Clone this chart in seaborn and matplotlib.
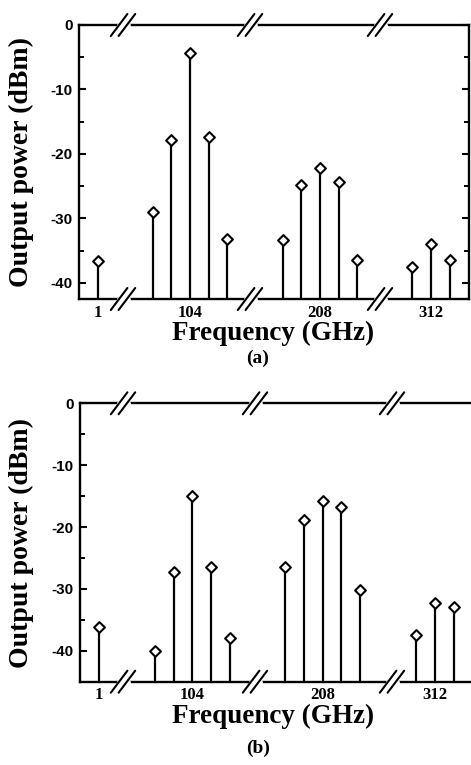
import numpy as np
import matplotlib
matplotlib.use('Agg')
import matplotlib.pyplot as plt
import matplotlib.transforms as mtrans
import seaborn as sns

# harmonic lines (GHz) and measured output power (dBm) for both cases
freqs = [1, 78, 91, 104, 117, 130, 182, 195, 208, 221, 234, 299, 312, 325]
power_a = [-36.6, -29.0, -17.8, -4.3, -17.4, -33.2,
           -33.4, -24.8, -22.2, -24.3, -36.5,
           -37.6, -33.9, -36.5]
power_b = [-36.1, -40.0, -27.2, -15.0, -26.4, -38.0,
           -26.5, -18.9, -15.8, -16.7, -30.2,
           -37.5, -32.2, -32.9]
group_freqs = [1, 104, 208, 312]
tick_labels = ['1', '104', '208', '312']
yticks = [0, -10, -20, -30, -40]
yminor = [-5, -15, -25, -35]

sns.set_style('ticks')
plt.rcParams['font.family'] = ['Liberation Serif', 'DejaVu Serif']
plt.rcParams['font.weight'] = 'bold'
plt.rcParams['text.color'] = 'black'
plt.rcParams['axes.labelcolor'] = 'black'
plt.rcParams['xtick.color'] = 'black'
plt.rcParams['ytick.color'] = 'black'
plt.rcParams['axes.edgecolor'] = 'black'

W, H = 471, 765
fig = plt.figure(figsize=(W / 100, H / 100), dpi=100)


def to_axis(f, centres, step):
    # compress the frequency axis: each group sits at its own centre
    g = int(np.argmin([abs(f - c) for c in group_freqs]))
    return centres[g] + (f - group_freqs[g]) * step


def draw_break(ax, x, h_px):
    trans = mtrans.blended_transform_factory(ax.transData, ax.transAxes)
    dy = 11 / h_px
    for y in (0, 1):
        ax.plot([x - 4.5, x + 4.5], [y, y], color='white', lw=3.5,
                transform=trans, clip_on=False, zorder=6)
        for off in (-3.9, 3.9):
            ax.plot([x + off - 8.3, x + off + 8.3], [y - dy, y + dy],
                    color='black', lw=1.5, transform=trans,
                    clip_on=False, zorder=7)


def panel(rect, power, centres, breaks, ymin, xmax, caption, cap_y,
          right_spine):
    left, top, width, height = rect
    ax = fig.add_axes([left / W, 1 - (top + height) / H, width / W, height / H])
    step = 18.7 / 13
    xs = [to_axis(f, centres, step) for f in freqs]
    ax.vlines(xs, ymin, power, color='black', lw=1.6, zorder=2)
    sns.scatterplot(x=xs, y=power, marker='D', s=30, color='white',
                    edgecolor='black', linewidth=1.5, zorder=3, ax=ax,
                    clip_on=False)
    ax.set_xticks(centres)
    ax.set_xticklabels(tick_labels, fontsize=12, fontweight='bold')
    ax.tick_params(axis='x', length=0, pad=4)
    ax.set_yticks(yticks)
    ax.set_yticks(yminor, minor=True)
    ax.set_yticklabels([str(t) for t in yticks], fontsize=11,
                       fontweight='bold', family='Liberation Sans')
    ax.tick_params(axis='y', which='major', direction='in', length=4.8,
                   width=1.5, pad=4.5, right=right_spine)
    ax.tick_params(axis='y', which='minor', direction='in', length=3.4,
                   width=1.4, right=right_spine)
    ax.set_xlim(0, xmax)
    ax.set_ylim(ymin, 0)
    for s in ax.spines.values():
        s.set_linewidth(1.7)
    ax.spines['right'].set_visible(right_spine)
    ax.set_xlabel('Frequency (GHz)', fontsize=19.5, fontweight='bold')
    ax.xaxis.set_label_coords((273 - left) / width, -22 / height)
    ax.set_ylabel('Output power (dBm)', fontsize=20, fontweight='bold')
    ax.yaxis.set_label_coords((34 - left) / width, 0.5)
    for b in breaks:
        draw_break(ax, b, height)
    fig.text(258 / W, 1 - cap_y / H, caption, ha='center', va='center',
             fontsize=14, fontweight='bold')
    return ax


panel((79, 25, 390, 274), power_a, [18.7, 111, 241, 352], [44, 171, 301],
      -42.5, 390, '(a)', 358, True)
panel((80, 403.3, 395, 278.4), power_b, [18.7, 112.3, 242.7, 355],
      [43, 175, 312], -45, 395, '(b)', 748, False)

fig.savefig('out.png', dpi=100)
